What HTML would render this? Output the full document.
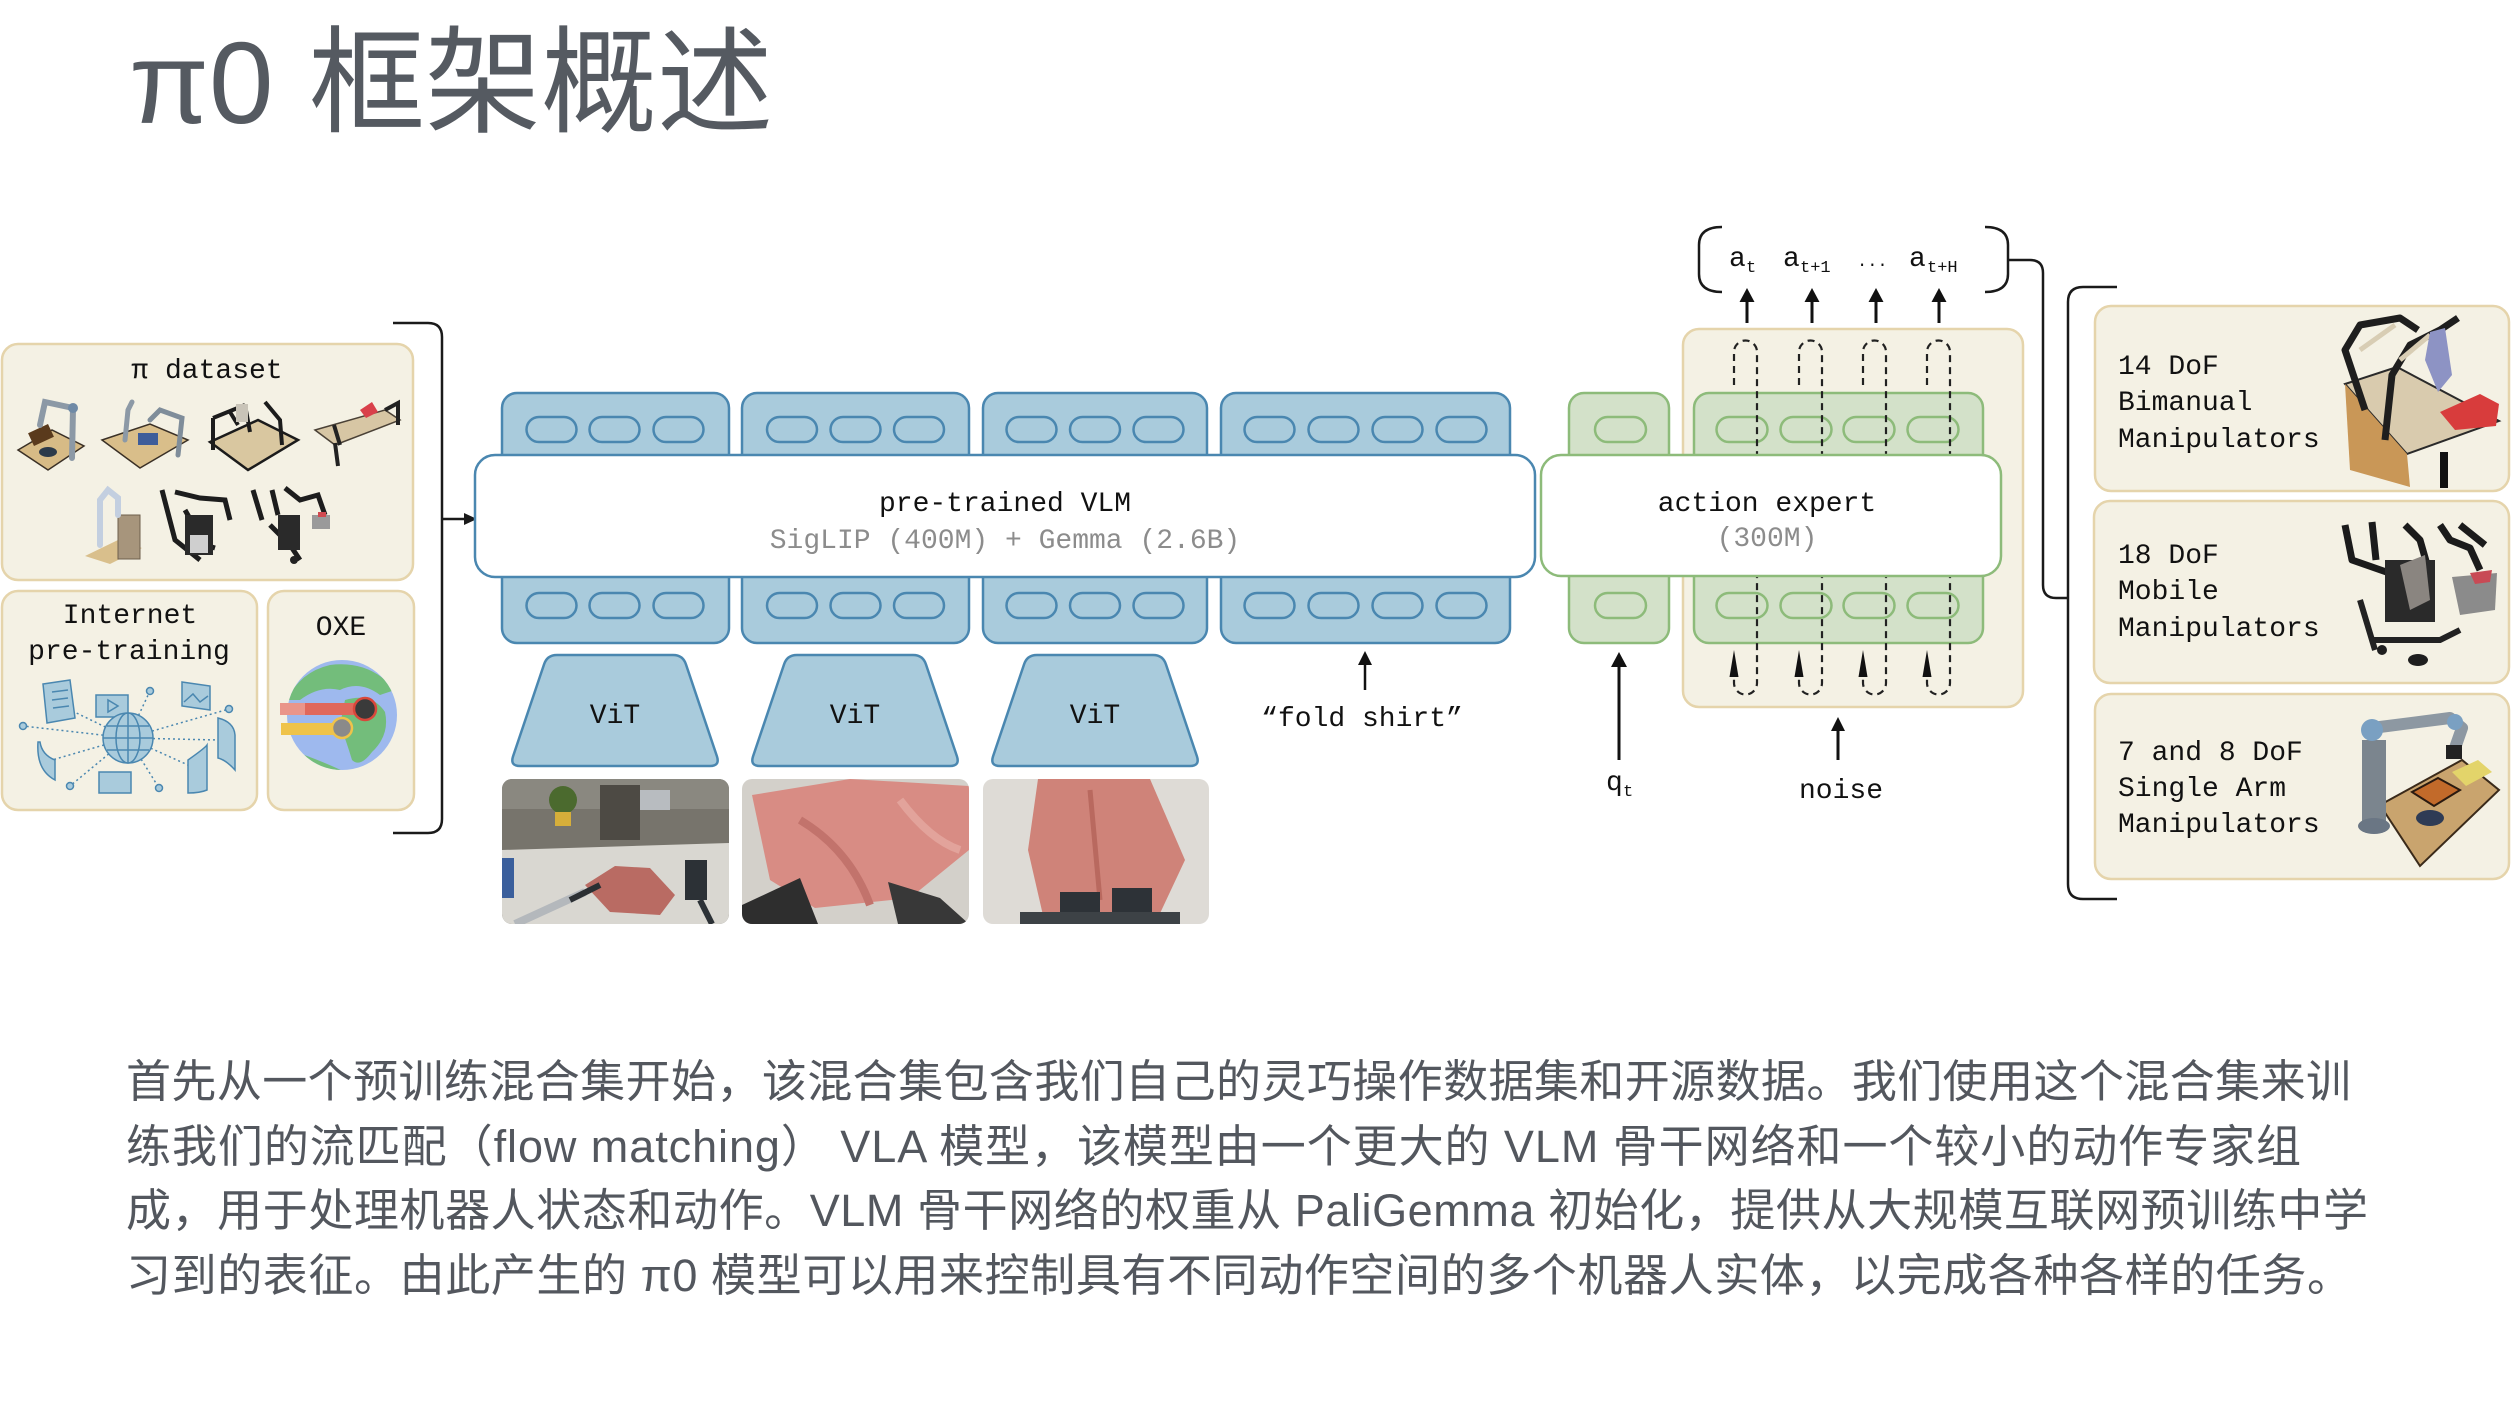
<!DOCTYPE html>
<html>
<head>
<meta charset="utf-8">
<style>
html,body{margin:0;padding:0;background:#ffffff;}
svg{display:block;}
.mono{font-family:"Liberation Mono","DejaVu Sans Mono",monospace;}
.cjk{font-family:"Liberation Sans","Noto Sans CJK SC",sans-serif;}
</style>
</head>
<body>
<svg width="2512" height="1406" viewBox="0 0 2512 1406" xmlns="http://www.w3.org/2000/svg">
<defs>
  <clipPath id="im1"><rect x="502" y="779" width="227" height="145" rx="10"/></clipPath>
  <clipPath id="im2"><rect x="742" y="779" width="227" height="145" rx="10"/></clipPath>
  <clipPath id="im3"><rect x="983" y="779" width="226" height="145" rx="10"/></clipPath>
  <clipPath id="globe"><circle cx="342" cy="715" r="55"/></clipPath>
</defs>

<!-- Title -->
<text x="129" y="123" font-family="Liberation Sans, sans-serif" font-size="116" fill="#555a61">π0</text>
<text x="309" y="123" class="cjk" font-size="116" fill="#555a61">框架概述</text>

<!-- ===== Left data panels ===== -->
<rect x="2" y="344" width="411" height="236" rx="16" fill="#f4f1e4" stroke="#e5d4ab" stroke-width="2.5"/>
<rect x="2" y="591" width="255" height="219" rx="16" fill="#f4f1e4" stroke="#e5d4ab" stroke-width="2.5"/>
<rect x="268" y="591" width="146" height="219" rx="16" fill="#f4f1e4" stroke="#e5d4ab" stroke-width="2.5"/>
<text x="207" y="378" text-anchor="middle" class="mono" font-size="28" fill="#111">π dataset</text>
<text x="130" y="623" text-anchor="middle" class="mono" font-size="28" fill="#111">Internet</text>
<text x="129" y="659" text-anchor="middle" class="mono" font-size="28" fill="#111">pre-training</text>
<text x="341" y="635" text-anchor="middle" class="mono" font-size="28" fill="#111">OXE</text>

<!-- pi dataset robots row 1 -->
<g>
  <!-- r1 -->
  <polygon points="18,450 52,430 84,446 48,470" fill="#d7bb86" stroke="#3a3026" stroke-width="1.5"/>
  <rect x="30" y="428" width="22" height="14" fill="#5a3a1c" transform="rotate(-25 41 435)"/>
  <ellipse cx="48" cy="452" rx="9" ry="5" fill="#2c3a4a"/>
  <path d="M72,458 L73,408 L45,402 L40,425" stroke="#8c99a6" stroke-width="6" fill="none" stroke-linecap="round"/>
  <circle cx="73" cy="408" r="5" fill="#6f8aa6"/>
  <!-- r2 -->
  <polygon points="102,440 150,424 188,440 140,468" fill="#d9be8a" stroke="#3a3026" stroke-width="1.5"/>
  <rect x="138" y="433" width="20" height="12" fill="#3e5d9a"/>
  <path d="M125,440 L128,410 L132,402" stroke="#8c99a6" stroke-width="5" fill="none" stroke-linecap="round"/>
  <path d="M178,455 L182,418 L160,410 L150,420" stroke="#7f8d9a" stroke-width="5" fill="none" stroke-linecap="round"/>
  <!-- r3 -->
  <polygon points="210,442 258,420 298,440 248,470" fill="#d9c7a0" stroke="#1b1b1b" stroke-width="2.5"/>
  <path d="M213,418 L213,450 M213,418 L245,405 M245,405 L250,432 M265,402 L280,420 L282,445 M230,412 L238,425" stroke="#1c1c1c" stroke-width="4" fill="none"/>
  <rect x="236" y="404" width="12" height="18" fill="#c9c4b8"/>
  <!-- r4 -->
  <polygon points="315,430 385,410 400,420 335,445" fill="#d7c6a4" stroke="#4a4136" stroke-width="1.5"/>
  <path d="M335,443 L338,466 M334,425 L340,445 M385,410 L398,403 L398,425" stroke="#222" stroke-width="4" fill="none"/>
  <polygon points="360,410 372,402 378,412 366,418" fill="#d9404a"/>
</g>
<!-- row 2 -->
<g>
  <!-- r5 -->
  <polygon points="85,556 118,540 142,548 110,564" fill="#d9bf8c"/>
  <rect x="118" y="515" width="22" height="44" fill="#a7957c" stroke="#6e5f4c" stroke-width="1"/>
  <path d="M100,545 L100,500 L108,490 L118,498 L118,515" stroke="#c3cfe0" stroke-width="6" fill="none" stroke-linecap="round"/>
  <!-- r6 -->
  <path d="M162,490 L175,540 L200,560 M175,492 L200,498 L225,500 L230,520 M185,510 L205,545 L215,548" stroke="#1d1d1d" stroke-width="5" fill="none"/>
  <rect x="185" y="515" width="28" height="40" fill="#2a2a2a"/>
  <rect x="190" y="535" width="18" height="18" fill="#cfcfcf"/>
  <!-- r7 -->
  <path d="M253,490 L262,520 M272,490 L278,515 M285,488 L300,500 L318,495 L325,515 M270,525 L290,545 L300,560" stroke="#1d1d1d" stroke-width="5" fill="none"/>
  <rect x="278" y="515" width="22" height="35" fill="#2a2a2a"/>
  <rect x="312" y="515" width="18" height="14" fill="#9a9a9a"/>
  <rect x="318" y="512" width="8" height="5" fill="#d04a50"/>
  <circle cx="294" cy="560" r="4" fill="#222"/>
</g>

<!-- Internet graphic -->
<g stroke="#4a87b0" stroke-width="1.5" fill="#a9cbdc">
  <g stroke-dasharray="2 3" fill="none">
    <line x1="128" y1="738" x2="23" y2="726"/>
    <line x1="128" y1="738" x2="150" y2="691"/>
    <line x1="128" y1="738" x2="229" y2="709"/>
    <line x1="128" y1="738" x2="70" y2="786"/>
    <line x1="128" y1="738" x2="159" y2="788"/>
    <line x1="128" y1="738" x2="60" y2="705"/>
    <line x1="128" y1="738" x2="218" y2="740"/>
    <line x1="128" y1="738" x2="52" y2="760"/>
    <line x1="128" y1="738" x2="188" y2="765"/>
  </g>
  <circle cx="23" cy="726" r="3.5"/>
  <circle cx="150" cy="691" r="3.5"/>
  <circle cx="229" cy="709" r="3.5"/>
  <circle cx="70" cy="786" r="3.5"/>
  <circle cx="159" cy="788" r="3.5"/>
  <path d="M43,684 L70,680 L75,718 L47,723 Z"/>
  <path d="M52,692 L68,690 M52,700 L68,698 M53,708 L69,706" fill="none"/>
  <rect x="96" y="695" width="32" height="22"/>
  <polygon points="108,700 108,712 118,706" fill="none"/>
  <path d="M182,682 L210,686 L210,710 L182,706 Z"/>
  <path d="M184,702 L193,694 L200,702 L208,696" fill="none"/>
  <path d="M38,742 Q36,770 55,780 L55,760 Q42,755 40,742 Z"/>
  <rect x="99" y="772" width="32" height="21"/>
  <path d="M188,760 Q205,748 207,745 L207,790 Q200,793 188,793 Z"/>
  <path d="M218,718 Q234,722 235,735 L235,770 Q226,760 218,758 Z"/>
  <circle cx="128" cy="738" r="25"/>
  <ellipse cx="128" cy="738" rx="12" ry="25" fill="none"/>
  <line x1="128" y1="713" x2="128" y2="763"/>
  <line x1="103" y1="738" x2="153" y2="738"/>
  <line x1="107" y1="726" x2="149" y2="726"/>
  <line x1="107" y1="750" x2="149" y2="750"/>
</g>

<!-- OXE globe -->
<g>
  <circle cx="342" cy="715" r="55" fill="#9eb9ee"/>
  <g clip-path="url(#globe)" fill="#73bd7b">
    <path d="M287,700 Q300,672 330,665 Q370,660 395,690 L380,695 Q360,680 340,690 Q320,685 300,700 Z"/>
    <path d="M345,700 Q372,692 385,712 Q390,735 372,752 Q360,768 352,760 Q346,740 340,725 Z"/>
    <path d="M290,750 Q320,760 345,772 L345,775 L290,775 Z"/>
  </g>
  <rect x="280" y="703" width="87" height="12" fill="#e0685b"/>
  <rect x="280" y="703" width="25" height="12" fill="#ea958a"/>
  <rect x="281" y="723" width="61" height="12" fill="#efc34a"/>
  <circle cx="365" cy="709" r="11" fill="#3a3a3a" stroke="#d9473b" stroke-width="2.5"/>
  <circle cx="342" cy="728" r="10" fill="#8a8a8a" stroke="#efc34a" stroke-width="2.5"/>
</g>

<!-- Left bracket + arrow -->
<path d="M393,323 H428 Q442,323 442,337 V819 Q442,833 428,833 H393" fill="none" stroke="#1a1a1a" stroke-width="2.5"/>
<line x1="442" y1="519" x2="466" y2="519" stroke="#1a1a1a" stroke-width="2.5"/>
<polygon points="477,519 464,513 464,525" fill="#1a1a1a"/>

<!-- ===== VLM token blocks ===== -->
<g fill="#a9cbdc" stroke="#4a87b0" stroke-width="2.5">
  <rect x="502" y="393" width="227" height="250" rx="15"/>
  <rect x="742" y="393" width="227" height="250" rx="15"/>
  <rect x="983" y="393" width="224" height="250" rx="15"/>
  <rect x="1221" y="393" width="289" height="250" rx="15"/>
</g>
<g fill="none" stroke="#4a87b0" stroke-width="2.5">
  <!-- top pills -->
  <rect x="526.5" y="417" width="50" height="25" rx="12.5"/>
  <rect x="589.5" y="417" width="50" height="25" rx="12.5"/>
  <rect x="653.5" y="417" width="50" height="25" rx="12.5"/>
  <rect x="767" y="417" width="50" height="25" rx="12.5"/>
  <rect x="830.5" y="417" width="50" height="25" rx="12.5"/>
  <rect x="894" y="417" width="50" height="25" rx="12.5"/>
  <rect x="1006.5" y="417" width="50" height="25" rx="12.5"/>
  <rect x="1070" y="417" width="50" height="25" rx="12.5"/>
  <rect x="1133.5" y="417" width="50" height="25" rx="12.5"/>
  <rect x="1244.5" y="417" width="50" height="25" rx="12.5"/>
  <rect x="1308.5" y="417" width="50" height="25" rx="12.5"/>
  <rect x="1372.5" y="417" width="50" height="25" rx="12.5"/>
  <rect x="1436.5" y="417" width="50" height="25" rx="12.5"/>
  <!-- bottom pills -->
  <rect x="526.5" y="593" width="50" height="25" rx="12.5"/>
  <rect x="589.5" y="593" width="50" height="25" rx="12.5"/>
  <rect x="653.5" y="593" width="50" height="25" rx="12.5"/>
  <rect x="767" y="593" width="50" height="25" rx="12.5"/>
  <rect x="830.5" y="593" width="50" height="25" rx="12.5"/>
  <rect x="894" y="593" width="50" height="25" rx="12.5"/>
  <rect x="1006.5" y="593" width="50" height="25" rx="12.5"/>
  <rect x="1070" y="593" width="50" height="25" rx="12.5"/>
  <rect x="1133.5" y="593" width="50" height="25" rx="12.5"/>
  <rect x="1244.5" y="593" width="50" height="25" rx="12.5"/>
  <rect x="1308.5" y="593" width="50" height="25" rx="12.5"/>
  <rect x="1372.5" y="593" width="50" height="25" rx="12.5"/>
  <rect x="1436.5" y="593" width="50" height="25" rx="12.5"/>
</g>
<rect x="475" y="455" width="1060" height="122" rx="20" fill="#ffffff" stroke="#4a87b0" stroke-width="2.5"/>
<text x="1005" y="511" text-anchor="middle" class="mono" font-size="28" fill="#111">pre-trained VLM</text>
<text x="1005" y="548" text-anchor="middle" class="mono" font-size="28" fill="#8c8c8c">SigLIP (400M) + Gemma (2.6B)</text>

<!-- ViT trapezoids -->
<g fill="#a9cbdc" stroke="#4a87b0" stroke-width="2.5" stroke-linejoin="round">
  <path transform="translate(615 0)" d="M-58,655 H58 Q68,655 71,664.5 L102,756.5 Q105,766 95,766 H-95 Q-105,766 -102,756.5 L-71,664.5 Q-68,655 -58,655 Z"/>
  <path transform="translate(855 0)" d="M-58,655 H58 Q68,655 71,664.5 L102,756.5 Q105,766 95,766 H-95 Q-105,766 -102,756.5 L-71,664.5 Q-68,655 -58,655 Z"/>
  <path transform="translate(1095 0)" d="M-58,655 H58 Q68,655 71,664.5 L102,756.5 Q105,766 95,766 H-95 Q-105,766 -102,756.5 L-71,664.5 Q-68,655 -58,655 Z"/>
</g>
<text x="615" y="723" text-anchor="middle" class="mono" font-size="28" fill="#111">ViT</text>
<text x="855" y="723" text-anchor="middle" class="mono" font-size="28" fill="#111">ViT</text>
<text x="1095" y="723" text-anchor="middle" class="mono" font-size="28" fill="#111">ViT</text>

<!-- fold shirt -->
<line x1="1365" y1="690" x2="1365" y2="662" stroke="#111" stroke-width="2.5"/>
<polygon points="1365,651 1358,665 1372,665" fill="#111"/>
<text x="1362" y="726" text-anchor="middle" class="mono" font-size="28" fill="#111">“fold shirt”</text>

<!-- Camera images -->
<g clip-path="url(#im1)">
  <rect x="502" y="779" width="227" height="145" fill="#77746c"/>
  <rect x="502" y="779" width="227" height="30" fill="#8a8880"/>
  <rect x="600" y="785" width="40" height="55" fill="#4d4a44"/>
  <rect x="640" y="790" width="30" height="20" fill="#b8bcc0"/>
  <circle cx="563" cy="800" r="14" fill="#4b6a2e"/>
  <rect x="555" y="812" width="16" height="14" fill="#d6ae3a"/>
  <polygon points="502,850 729,843 729,924 502,924" fill="#d9d7d1"/>
  <rect x="502" y="858" width="12" height="40" fill="#3b5f9c"/>
  <polygon points="585,885 615,866 650,868 675,895 660,915 610,912" fill="#b96b63"/>
  <path d="M515,924 L585,892" stroke="#b4b8bc" stroke-width="8"/>
  <path d="M570,900 L600,885" stroke="#2b2f33" stroke-width="6"/>
  <rect x="685" y="860" width="22" height="40" fill="#2c3136"/>
  <path d="M700,900 L712,924" stroke="#2c3136" stroke-width="6"/>
</g>
<g clip-path="url(#im2)">
  <rect x="742" y="779" width="227" height="145" fill="#d3d0ca"/>
  <polygon points="752,795 850,779 969,786 969,850 910,898 815,908 770,880" fill="#d88c84"/>
  <path d="M800,820 Q850,850 870,905" stroke="#c2736c" stroke-width="8" fill="none"/>
  <path d="M900,800 Q930,840 960,850" stroke="#e2a39b" stroke-width="8" fill="none"/>
  <polygon points="742,924 742,905 800,878 818,924" fill="#2e2e2e"/>
  <polygon points="888,882 940,898 969,924 898,924" fill="#383838"/>
</g>
<g clip-path="url(#im3)">
  <rect x="983" y="779" width="226" height="145" fill="#dedbd6"/>
  <polygon points="1038,779 1150,779 1185,860 1155,924 1045,924 1028,850" fill="#cf8379"/>
  <path d="M1090,790 L1100,900" stroke="#b9695f" stroke-width="5"/>
  <rect x="1060" y="892" width="40" height="32" fill="#2d3237"/>
  <rect x="1112" y="888" width="40" height="36" fill="#2d3237"/>
  <rect x="1020" y="912" width="160" height="12" fill="#3d4246"/>
</g>

<!-- ===== Action expert section ===== -->
<rect x="1683" y="329" width="340" height="378" rx="16" fill="#f4f1e4" stroke="#e5d4ab" stroke-width="2.5"/>
<g fill="#d3e1c9" stroke="#8dbb7a" stroke-width="2.5">
  <rect x="1569" y="393" width="100" height="250" rx="15"/>
  <rect x="1694" y="393" width="289" height="250" rx="15"/>
</g>
<g fill="none" stroke="#8dbb7a" stroke-width="2.5">
  <rect x="1595" y="417" width="51" height="25" rx="12.5"/>
  <rect x="1595" y="593" width="51" height="25" rx="12.5"/>
  <rect x="1716.5" y="417" width="51" height="25" rx="12.5"/>
  <rect x="1780.5" y="417" width="51" height="25" rx="12.5"/>
  <rect x="1843.5" y="417" width="51" height="25" rx="12.5"/>
  <rect x="1907.5" y="417" width="51" height="25" rx="12.5"/>
  <rect x="1716.5" y="593" width="51" height="25" rx="12.5"/>
  <rect x="1780.5" y="593" width="51" height="25" rx="12.5"/>
  <rect x="1843.5" y="593" width="51" height="25" rx="12.5"/>
  <rect x="1907.5" y="593" width="51" height="25" rx="12.5"/>
</g>
<!-- dashed loops -->
<g fill="none" stroke="#222" stroke-width="2.2" stroke-dasharray="7 5">
  <path d="M1734,385 V352 A11.5,11.5 0 0 1 1757,352 V683 A11.5,11.5 0 0 1 1734,683 V676"/>
  <path d="M1799,385 V352 A11.5,11.5 0 0 1 1822,352 V683 A11.5,11.5 0 0 1 1799,683 V676"/>
  <path d="M1863,385 V352 A11.5,11.5 0 0 1 1886,352 V683 A11.5,11.5 0 0 1 1863,683 V676"/>
  <path d="M1927,385 V352 A11.5,11.5 0 0 1 1950,352 V683 A11.5,11.5 0 0 1 1927,683 V676"/>
</g>
<g fill="#111">
  <polygon points="1734,650 1729.5,677 1738.5,677"/>
  <polygon points="1799,650 1794.5,677 1803.5,677"/>
  <polygon points="1863,650 1858.5,677 1867.5,677"/>
  <polygon points="1927,650 1922.5,677 1931.5,677"/>
</g>
<rect x="1541" y="455" width="460" height="121" rx="20" fill="#ffffff" stroke="#8dbb7a" stroke-width="2.5"/>
<text x="1767" y="511" text-anchor="middle" class="mono" font-size="28" fill="#111">action expert</text>
<text x="1767" y="546" text-anchor="middle" class="mono" font-size="28" fill="#8c8c8c">(300M)</text>

<!-- q_t and noise arrows -->
<line x1="1619" y1="760" x2="1619" y2="664" stroke="#111" stroke-width="3"/>
<polygon points="1619,652 1611,667 1627,667" fill="#111"/>
<text x="1606" y="790" class="mono" font-size="28" fill="#111">q</text>
<text x="1623" y="796" class="mono" font-size="17" fill="#111">t</text>
<line x1="1838" y1="760" x2="1838" y2="728" stroke="#111" stroke-width="3"/>
<polygon points="1838,717 1831,731 1845,731" fill="#111"/>
<text x="1841" y="798" text-anchor="middle" class="mono" font-size="28" fill="#111">noise</text>

<!-- output action arrows -->
<g stroke="#111" stroke-width="3">
  <line x1="1747" y1="323" x2="1747" y2="299"/>
  <line x1="1812" y1="323" x2="1812" y2="299"/>
  <line x1="1876" y1="323" x2="1876" y2="299"/>
  <line x1="1939" y1="323" x2="1939" y2="299"/>
</g>
<g fill="#111">
  <polygon points="1747,288 1739.5,302 1754.5,302"/>
  <polygon points="1812,288 1804.5,302 1819.5,302"/>
  <polygon points="1876,288 1868.5,302 1883.5,302"/>
  <polygon points="1939,288 1931.5,302 1946.5,302"/>
</g>
<!-- action labels -->
<g class="mono" fill="#111">
  <text x="1729" y="266" font-size="28">a</text>
  <text x="1746" y="272" font-size="17">t</text>
  <text x="1783" y="266" font-size="28">a</text>
  <text x="1800" y="272" font-size="17">t+1</text>
  <text x="1857" y="266" font-size="17">...</text>
  <text x="1909" y="266" font-size="28">a</text>
  <text x="1927" y="272" font-size="17">t+H</text>
</g>
<!-- output brackets -->
<g fill="none" stroke="#1a1a1a" stroke-width="2.5">
  <path d="M1722,227 Q1699,227 1699,245 V274 Q1699,292 1722,292"/>
  <path d="M1985,227 Q2008,227 2008,245 V274 Q2008,292 1985,292"/>
  <path d="M2008,260 H2030 Q2043,260 2043,273 V585 Q2043,598 2056,598 H2068"/>
  <path d="M2117,287 H2083 Q2068,287 2068,302 V884 Q2068,899 2083,899 H2117"/>
</g>

<!-- ===== Right robot cards ===== -->
<g fill="#f4f1e4" stroke="#e5d4ab" stroke-width="2.5">
  <rect x="2095" y="306" width="414" height="185" rx="16"/>
  <rect x="2094" y="501" width="415" height="182" rx="16"/>
  <rect x="2095" y="694" width="414" height="185" rx="16"/>
</g>
<g class="mono" font-size="28" fill="#111">
  <text x="2118" y="374">14 DoF</text>
  <text x="2118" y="410">Bimanual</text>
  <text x="2118" y="447">Manipulators</text>
  <text x="2118" y="563">18 DoF</text>
  <text x="2118" y="599">Mobile</text>
  <text x="2118" y="636">Manipulators</text>
  <text x="2118" y="760">7 and 8 DoF</text>
  <text x="2118" y="796">Single Arm</text>
  <text x="2118" y="832">Manipulators</text>
</g>
<!-- card 1 robot -->
<g>
  <polygon points="2345,384 2397,367 2499,421 2407,454" fill="#d9cbae" stroke="#2a2a2a" stroke-width="2"/>
  <polygon points="2345,384 2407,454 2410,487 2350,470" fill="#c99757"/>
  <rect x="2440" y="452" width="8" height="36" fill="#111"/>
  <path d="M2365,410 L2345,350 L2360,325 L2400,318 L2418,330" stroke="#1e1e1e" stroke-width="7" fill="none" stroke-linejoin="round"/>
  <path d="M2360,350 L2395,325" stroke="#d8cdb4" stroke-width="5" fill="none"/>
  <path d="M2385,440 L2392,375 L2410,345 L2440,330 L2458,318" stroke="#1e1e1e" stroke-width="7" fill="none" stroke-linejoin="round"/>
  <path d="M2400,360 L2430,335" stroke="#d8cdb4" stroke-width="5" fill="none"/>
  <polygon points="2430,332 2445,328 2452,375 2438,392 2425,360" fill="#8d93c4"/>
  <polygon points="2440,412 2480,394 2499,404 2496,426 2455,430" fill="#d83c3c"/>
</g>
<!-- card 2 robot -->
<g>
  <path d="M2345,525 L2352,560 L2395,575 M2372,522 L2376,560 M2405,525 L2420,540 L2430,575 M2440,525 L2450,540 L2470,548 L2480,570 M2460,525 L2485,545" stroke="#1b1b1b" stroke-width="7" fill="none" stroke-linejoin="round"/>
  <rect x="2385" y="560" width="50" height="62" fill="#2a2a2a"/>
  <polygon points="2400,565 2425,555 2430,600 2410,610" fill="#8a8580"/>
  <path d="M2360,600 L2375,650 M2370,640 L2440,640 L2460,630" stroke="#222" stroke-width="6" fill="none"/>
  <polygon points="2452,577 2497,573 2495,610 2460,615" fill="#8b8b8b"/>
  <polygon points="2470,573 2492,570 2490,582 2475,584" fill="#c84a55"/>
  <ellipse cx="2418" cy="660" rx="10" ry="6" fill="#1e1e1e"/>
  <circle cx="2382" cy="650" r="5" fill="#1e1e1e"/>
</g>
<!-- card 3 robot -->
<g>
  <polygon points="2380,805 2462,760 2499,790 2420,866" fill="#c9a46e" stroke="#3a2a1a" stroke-width="2"/>
  <rect x="2362" y="740" width="24" height="85" fill="#7b858e"/>
  <ellipse cx="2374" cy="826" rx="16" ry="8" fill="#6a7684"/>
  <path d="M2372,728 L2450,718 L2462,728 L2455,748" stroke="#8d98a2" stroke-width="12" fill="none" stroke-linecap="round" stroke-linejoin="round"/>
  <circle cx="2372" cy="730" r="11" fill="#7aa0c2"/>
  <circle cx="2455" cy="722" r="8" fill="#7aa0c2"/>
  <rect x="2446" y="745" width="16" height="14" fill="#222"/>
  <polygon points="2412,792 2438,778 2460,790 2434,806" fill="#c26a2a" stroke="#2a1a10" stroke-width="2"/>
  <polygon points="2452,772 2478,760 2492,772 2466,786" fill="#e3d46a"/>
  <ellipse cx="2430" cy="818" rx="14" ry="8" fill="#2e3b55"/>
</g>

<!-- ===== Body text ===== -->
<g class="cjk" font-size="45" fill="#53575e">
  <text x="126" y="1097" textLength="2225" lengthAdjust="spacing">首先从一个预训练混合集开始，该混合集包含我们自己的灵巧操作数据集和开源数据。我们使用这个混合集来训</text>
  <text x="126" y="1162" textLength="2175" lengthAdjust="spacing">练我们的流匹配（flow matching） VLA 模型，该模型由一个更大的 VLM 骨干网络和一个较小的动作专家组</text>
  <text x="126" y="1226" textLength="2242" lengthAdjust="spacing">成，用于处理机器人状态和动作。VLM 骨干网络的权重从 PaliGemma 初始化，提供从大规模互联网预训练中学</text>
  <text x="126" y="1291" textLength="2226" lengthAdjust="spacing">习到的表征。由此产生的 π0 模型可以用来控制具有不同动作空间的多个机器人实体，以完成各种各样的任务。</text>
</g>
</svg>
</body>
</html>
